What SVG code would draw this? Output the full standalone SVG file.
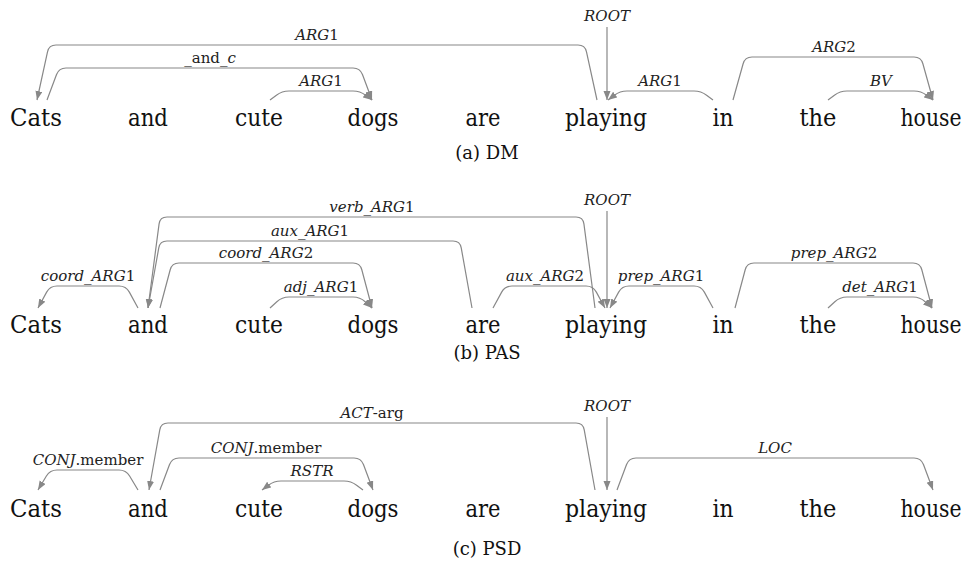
<svg xmlns="http://www.w3.org/2000/svg" width="969" height="571" viewBox="0 0 969 571">
<style>
.w{font-family:'DejaVu Serif',serif;font-size:23.5px;fill:#111;text-anchor:middle}
.l{font-family:'DejaVu Serif',serif;font-size:15px;font-style:italic;fill:#222;text-anchor:middle}
.u{font-style:normal}
.cap{font-family:'DejaVu Serif',serif;font-size:18px;fill:#111;text-anchor:middle}
.e{fill:none;stroke:#888;stroke-width:1.2;marker-end:url(#ah)}
</style>
<defs>
<marker id="ah" markerUnits="userSpaceOnUse" markerWidth="10" markerHeight="8" refX="9" refY="3.5" orient="auto"><path d="M0,0 L9,3.5 L0,7 z" fill="#888"/></marker>
</defs>
<rect width="969" height="571" fill="#fff"/>

<g id="a-words">
<g id="a-cats"><text class="w" x="36" y="126" textLength="52" lengthAdjust="spacingAndGlyphs">Cats</text></g>
<g id="a-and"><text class="w" x="148" y="126" textLength="40" lengthAdjust="spacingAndGlyphs">and</text></g>
<g id="a-cute"><text class="w" x="259" y="126" textLength="48" lengthAdjust="spacingAndGlyphs">cute</text></g>
<g id="a-dogs"><text class="w" x="373" y="126" textLength="51" lengthAdjust="spacingAndGlyphs">dogs</text></g>
<g id="a-are"><text class="w" x="483" y="126" textLength="35" lengthAdjust="spacingAndGlyphs">are</text></g>
<g id="a-playing"><text class="w" x="606" y="126" textLength="82" lengthAdjust="spacingAndGlyphs">playing</text></g>
<g id="a-in"><text class="w" x="723" y="126" textLength="21" lengthAdjust="spacingAndGlyphs">in</text></g>
<g id="a-the"><text class="w" x="818" y="126" textLength="37" lengthAdjust="spacingAndGlyphs">the</text></g>
<g id="a-house"><text class="w" x="931" y="126" textLength="61" lengthAdjust="spacingAndGlyphs">house</text></g>
</g>
<g id="a-connectors">
<path class="e" d="M597,100 L586.49,51.84 Q585,45 578,45 L56,45 Q49,45 47.51,51.84 L37,100"/>
<text class="l" x="317" y="40">ARG<tspan class="u">1</tspan></text>
<path class="e" d="M47,100 L56.54,74.55 Q59,68 66,68 L353,68 Q360,68 362.46,74.55 L372,100"/>
<text class="l" x="210" y="63"><tspan class="u">_and_</tspan>c</text>
<path class="e" d="M270,100 L276.4,95.2 Q282,91 289,91 L353,91 Q360,91 365.6,95.2 L372,100"/>
<text class="l" x="321" y="86">ARG<tspan class="u">1</tspan></text>
<path class="e" d="M607,27 L607,100"/>
<text class="l" x="607" y="21">ROOT</text>
<path class="e" d="M713,100 L706.6,95.2 Q701,91 694,91 L627,91 Q620,91 614.4,95.2 L608,100"/>
<text class="l" x="660" y="86">ARG<tspan class="u">1</tspan></text>
<path class="e" d="M733,100 L743.12,63.75 Q745,57 752,57 L914,57 Q921,57 922.88,63.75 L933,100"/>
<text class="l" x="834" y="52">ARG<tspan class="u">2</tspan></text>
<path class="e" d="M828,100 L834.4,95.2 Q840,91 847,91 L914,91 Q921,91 926.6,95.2 L933,100"/>
<text class="l" x="881" y="86">BV</text>
</g>
<text class="cap" x="487" y="159">(a) DM</text>

<g id="b-words">
<g id="b-cats"><text class="w" x="36" y="333" textLength="52" lengthAdjust="spacingAndGlyphs">Cats</text></g>
<g id="b-and"><text class="w" x="148" y="333" textLength="40" lengthAdjust="spacingAndGlyphs">and</text></g>
<g id="b-cute"><text class="w" x="259" y="333" textLength="48" lengthAdjust="spacingAndGlyphs">cute</text></g>
<g id="b-dogs"><text class="w" x="373" y="333" textLength="51" lengthAdjust="spacingAndGlyphs">dogs</text></g>
<g id="b-are"><text class="w" x="483" y="333" textLength="35" lengthAdjust="spacingAndGlyphs">are</text></g>
<g id="b-playing"><text class="w" x="606" y="333" textLength="82" lengthAdjust="spacingAndGlyphs">playing</text></g>
<g id="b-in"><text class="w" x="723" y="333" textLength="21" lengthAdjust="spacingAndGlyphs">in</text></g>
<g id="b-the"><text class="w" x="818" y="333" textLength="37" lengthAdjust="spacingAndGlyphs">the</text></g>
<g id="b-house"><text class="w" x="931" y="333" textLength="61" lengthAdjust="spacingAndGlyphs">house</text></g>
</g>
<g id="b-connectors">
<path class="e" d="M138,308 L129.35,292.15 Q126,286 119,286 L57,286 Q50,286 46.65,292.15 L38,308"/>
<text class="l" x="88" y="281">coord_ARG<tspan class="u">1</tspan></text>
<path class="e" d="M595,308 L583.92,223.94 Q583,217 576,217 L167,217 Q160,217 159.08,223.94 L148,308"/>
<text class="l" x="372" y="212">verb_ARG<tspan class="u">1</tspan></text>
<path class="e" d="M472,308 L461.23,247.89 Q460,241 453,241 L167,241 Q160,241 158.77,247.89 L148,308"/>
<text class="l" x="310" y="236">aux_ARG<tspan class="u">1</tspan></text>
<path class="e" d="M160,308 L170.2,269.76 Q172,263 179,263 L353,263 Q360,263 361.8,269.76 L372,308"/>
<text class="l" x="266" y="258">coord_ARG<tspan class="u">2</tspan></text>
<path class="e" d="M270,308 L276.84,301.73 Q282,297 289,297 L353,297 Q360,297 365.16,301.73 L372,308"/>
<text class="l" x="321" y="292">adj_ARG<tspan class="u">1</tspan></text>
<path class="e" d="M607,211 L607,308"/>
<text class="l" x="607" y="205">ROOT</text>
<path class="e" d="M493,308 L501.65,292.15 Q505,286 512,286 L586,286 Q593,286 596.35,292.15 L605,308"/>
<text class="l" x="545" y="281">aux_ARG<tspan class="u">2</tspan></text>
<path class="e" d="M713,308 L704.35,292.15 Q701,286 694,286 L629,286 Q622,286 618.65,292.15 L610,308"/>
<text class="l" x="661" y="281">prep_ARG<tspan class="u">1</tspan></text>
<path class="e" d="M735,308 L745.2,269.76 Q747,263 754,263 L913,263 Q920,263 921.8,269.76 L932,308"/>
<text class="l" x="834" y="258">prep_ARG<tspan class="u">2</tspan></text>
<path class="e" d="M828,308 L834.84,301.73 Q840,297 847,297 L913,297 Q920,297 925.16,301.73 L932,308"/>
<text class="l" x="880" y="292">det_ARG<tspan class="u">1</tspan></text>
</g>
<text class="cap" x="487" y="359">(b) PAS</text>

<g id="c-words">
<g id="c-cats"><text class="w" x="36" y="517" textLength="52" lengthAdjust="spacingAndGlyphs">Cats</text></g>
<g id="c-and"><text class="w" x="148" y="517" textLength="40" lengthAdjust="spacingAndGlyphs">and</text></g>
<g id="c-cute"><text class="w" x="259" y="517" textLength="48" lengthAdjust="spacingAndGlyphs">cute</text></g>
<g id="c-dogs"><text class="w" x="373" y="517" textLength="51" lengthAdjust="spacingAndGlyphs">dogs</text></g>
<g id="c-are"><text class="w" x="483" y="517" textLength="35" lengthAdjust="spacingAndGlyphs">are</text></g>
<g id="c-playing"><text class="w" x="606" y="517" textLength="82" lengthAdjust="spacingAndGlyphs">playing</text></g>
<g id="c-in"><text class="w" x="723" y="517" textLength="21" lengthAdjust="spacingAndGlyphs">in</text></g>
<g id="c-the"><text class="w" x="818" y="517" textLength="37" lengthAdjust="spacingAndGlyphs">the</text></g>
<g id="c-house"><text class="w" x="931" y="517" textLength="61" lengthAdjust="spacingAndGlyphs">house</text></g>
</g>
<g id="c-connectors">
<path class="e" d="M138,490 L129.6,476 Q126,470 119,470 L57,470 Q50,470 46.4,476 L38,490"/>
<text class="l" x="88" y="465">CONJ<tspan class="u">.member</tspan></text>
<path class="e" d="M595,490 L584.23,429.89 Q583,423 576,423 L168,423 Q161,423 159.77,429.89 L149,490"/>
<text class="l" x="372" y="418">ACT<tspan class="u">-arg</tspan></text>
<path class="e" d="M160,490 L169.54,464.55 Q172,458 179,458 L354,458 Q361,458 363.46,464.55 L373,490"/>
<text class="l" x="266" y="453">CONJ<tspan class="u">.member</tspan></text>
<path class="e" d="M363,490 L356.6,485.2 Q351,481 344,481 L281,481 Q274,481 268.4,485.2 L262,490"/>
<text class="l" x="312" y="476">RSTR</text>
<path class="e" d="M607,417 L607,490"/>
<text class="l" x="607" y="411">ROOT</text>
<path class="e" d="M617,490 L626.54,464.55 Q629,458 636,458 L914,458 Q921,458 923.46,464.55 L933,490"/>
<text class="l" x="775" y="453">LOC</text>
</g>
<text class="cap" x="487" y="555">(c) PSD</text>
</svg>
